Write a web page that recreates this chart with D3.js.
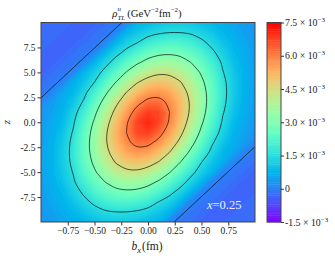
<!DOCTYPE html>
<html>
<head>
<meta charset="utf-8">
<script src="https://cdn.jsdelivr.net/npm/d3@7"></script>
<style>
  body { margin: 0; background: #fff; }
  svg text { font-family: "Liberation Serif", "Times New Roman", Times, "DejaVu Serif", serif; fill: #222; }
</style>
</head>
<body>
<svg id="chart" width="335" height="258"></svg>
<script>
// grid of b_x (fm) and z values the density was read at
const bx = [-1.0, -0.9, -0.8, -0.7, -0.6, -0.5, -0.4, -0.3, -0.2, -0.1, 0.0,
            0.1, 0.2, 0.3, 0.4, 0.5, 0.6, 0.7, 0.8, 0.9, 1.0];
const zRows = [10, 9, 8, 7, 6, 5, 4, 3, 2, 1, 0, -1, -2, -3, -4, -5, -6, -7, -8, -9, -10];

// rho_TL^u in units of 1e-3 GeV^-2 fm^-2, one row per z (top to bottom)
const rho = [
  [-0.21, -0.24, -0.27, -0.30, -0.33, -0.33, -0.21, -0.10, 0.08, 0.73, 0.83, 0.97, 1.06, 1.08, 1.03, 0.90, 0.78, 0.67, 0.52, 0.40, 0.30],
  [-0.24, -0.27, -0.30, -0.33, -0.33, -0.21, -0.10, 0.08, 0.78, 1.04, 1.26, 1.41, 1.49, 1.49, 1.41, 1.25, 1.03, 0.80, 0.64, 0.47, 0.35],
  [-0.27, -0.30, -0.33, -0.33, -0.21, -0.10, 0.08, 0.78, 1.19, 1.48, 1.83, 2.06, 2.17, 2.12, 1.94, 1.63, 1.32, 1.00, 0.75, 0.55, 0.39],
  [-0.30, -0.33, -0.33, -0.21, -0.10, 0.08, 0.78, 1.27, 1.69, 2.17, 2.54, 2.77, 2.84, 2.74, 2.49, 2.11, 1.61, 1.21, 0.83, 0.63, 0.43],
  [-0.33, -0.33, -0.21, -0.10, 0.08, 0.78, 1.26, 1.78, 2.37, 2.87, 3.29, 3.54, 3.57, 3.38, 3.00, 2.53, 1.96, 1.39, 0.95, 0.68, 0.45],
  [-0.33, -0.21, -0.10, 0.08, 0.77, 1.17, 1.72, 2.41, 3.05, 3.66, 4.11, 4.34, 4.31, 4.02, 3.52, 2.89, 2.24, 1.53, 1.05, 0.71, 0.47],
  [-0.21, -0.10, 0.08, 0.68, 1.00, 1.51, 2.28, 3.02, 3.80, 4.46, 4.86, 5.03, 4.92, 4.56, 3.94, 3.18, 2.43, 1.66, 1.11, 0.73, 0.48],
  [-0.10, 0.08, 0.55, 0.81, 1.29, 2.00, 2.81, 3.68, 4.52, 5.13, 5.56, 5.67, 5.44, 4.93, 4.24, 3.37, 2.53, 1.71, 1.11, 0.72, 0.46],
  [0.08, 0.42, 0.67, 1.02, 1.59, 2.44, 3.33, 4.29, 5.09, 5.77, 6.24, 6.27, 5.83, 5.16, 4.38, 3.43, 2.53, 1.67, 1.07, 0.69, 0.44],
  [0.33, 0.50, 0.77, 1.23, 1.94, 2.81, 3.79, 4.75, 5.57, 6.35, 6.82, 6.71, 6.01, 5.20, 4.35, 3.34, 2.42, 1.55, 0.98, 0.65, 0.41],
  [0.38, 0.58, 0.85, 1.40, 2.22, 3.12, 4.14, 5.06, 5.91, 6.75, 7.10, 6.75, 5.91, 5.06, 4.14, 3.12, 2.22, 1.40, 0.85, 0.58, 0.38],
  [0.41, 0.65, 0.98, 1.55, 2.42, 3.34, 4.35, 5.20, 6.01, 6.71, 6.82, 6.35, 5.57, 4.75, 3.79, 2.81, 1.94, 1.23, 0.77, 0.50, 0.33],
  [0.44, 0.69, 1.07, 1.67, 2.53, 3.43, 4.38, 5.16, 5.83, 6.27, 6.24, 5.77, 5.09, 4.29, 3.33, 2.44, 1.59, 1.02, 0.67, 0.42, 0.08],
  [0.46, 0.72, 1.11, 1.71, 2.53, 3.37, 4.24, 4.93, 5.44, 5.67, 5.56, 5.13, 4.52, 3.68, 2.81, 2.00, 1.29, 0.81, 0.55, 0.08, -0.10],
  [0.48, 0.73, 1.11, 1.66, 2.43, 3.18, 3.94, 4.56, 4.92, 5.03, 4.86, 4.46, 3.80, 3.02, 2.28, 1.51, 1.00, 0.68, 0.08, -0.10, -0.21],
  [0.47, 0.71, 1.05, 1.53, 2.24, 2.89, 3.52, 4.02, 4.31, 4.34, 4.11, 3.66, 3.05, 2.41, 1.72, 1.17, 0.77, 0.08, -0.10, -0.21, -0.33],
  [0.45, 0.68, 0.95, 1.39, 1.96, 2.53, 3.00, 3.38, 3.57, 3.54, 3.29, 2.87, 2.37, 1.78, 1.26, 0.78, 0.08, -0.10, -0.21, -0.33, -0.33],
  [0.43, 0.63, 0.83, 1.21, 1.61, 2.11, 2.49, 2.74, 2.84, 2.77, 2.54, 2.17, 1.69, 1.27, 0.78, 0.08, -0.10, -0.21, -0.33, -0.33, -0.30],
  [0.39, 0.55, 0.75, 1.00, 1.32, 1.63, 1.94, 2.12, 2.17, 2.06, 1.83, 1.48, 1.19, 0.78, 0.08, -0.10, -0.21, -0.33, -0.33, -0.30, -0.27],
  [0.35, 0.47, 0.64, 0.80, 1.03, 1.25, 1.41, 1.49, 1.49, 1.41, 1.26, 1.04, 0.78, 0.08, -0.10, -0.21, -0.33, -0.33, -0.30, -0.27, -0.24],
  [0.30, 0.40, 0.52, 0.67, 0.78, 0.90, 1.03, 1.08, 1.06, 0.97, 0.83, 0.73, 0.08, -0.10, -0.21, -0.33, -0.33, -0.30, -0.27, -0.24, -0.21]
];

const contourLevels = [0, 1.5, 3.0, 4.5, 6.0];
const xTicks = [-0.75, -0.5, -0.25, 0, 0.25, 0.5, 0.75];
const zTicks = [-7.5, -5, -2.5, 0, 2.5, 5, 7.5];
const cbTicks = [-1.5, 0, 1.5, 3.0, 4.5, 6.0, 7.5];

const serif = '"Liberation Serif", "Times New Roman", Times, serif';
const plot = {left: 41, right: 255, top: 22.5, bottom: 222};
const svg = d3.select("#chart");

const x = d3.scaleLinear().domain([-1, 1]).range([plot.left, plot.right]);
const y = d3.scaleLinear().domain([-10, 10]).range([plot.bottom, plot.top]);

// matplotlib "rainbow"
function rainbow(t) {
  t = Math.max(0, Math.min(1, t));
  const r = Math.min(1, Math.abs(2 * t - 0.5));
  const g = Math.sin(Math.PI * t);
  const b = Math.cos(Math.PI * t / 2);
  return d3.rgb(r * 255, g * 255, b * 255).formatHex();
}
const color = d3.scaleSequential(rainbow).domain([-1.5, 7.5]);

svg.append("defs").append("clipPath").attr("id", "plot-clip")
  .append("rect")
  .attr("x", plot.left).attr("y", plot.top)
  .attr("width", plot.right - plot.left).attr("height", plot.bottom - plot.top);

// grid coords -> data coords (values sit at cell centres)
const n = bx.length, m = zRows.length;
const gx = d3.scaleLinear().domain([0.5, n - 0.5]).range([bx[0], bx[n - 1]]);
const gz = d3.scaleLinear().domain([0.5, m - 0.5]).range([zRows[0], zRows[m - 1]]);
const toPx = d3.geoTransform({
  point(px, py) { this.stream.point(x(gx(px)), y(gz(py))); }
});
const path = d3.geoPath(toPx);
const values = rho.flat();

const step = 0.1;
const fillLevels = d3.range(-1.5, 7.5 - 1e-9, step);
const bands = d3.contours().size([n, m]).thresholds(fillLevels)(values);

const g = svg.append("g").attr("clip-path", "url(#plot-clip)");
g.selectAll("path.band")
  .data(bands)
  .join("path")
  .attr("class", "band")
  .attr("d", path)
  .attr("fill", d => color(d.value + step / 2));

// black contour lines, smoothed
const isos = d3.contours().size([n, m]).thresholds(contourLevels)(values);
const line = d3.line().curve(d3.curveCatmullRomClosed.alpha(0.5));
g.selectAll("path.iso")
  .data(isos)
  .join("path")
  .attr("class", "iso")
  .attr("d", d => d.coordinates
    .flatMap(poly => poly.map(ring =>
      line(ring.slice(0, -1).map(([px, py]) => [x(gx(px)), y(gz(py))]))))
    .join(""))
  .attr("fill", "none")
  .attr("stroke", "#000")
  .attr("stroke-opacity", 0.72)
  .attr("stroke-width", 0.9);

// axes
const xAxis = svg.append("g")
  .attr("transform", `translate(0,${plot.bottom})`)
  .call(d3.axisBottom(x).tickValues(xTicks).tickSize(3.5).tickPadding(2)
    .tickFormat(d3.format(".2f")));
const yAxis = svg.append("g")
  .attr("transform", `translate(${plot.left},0)`)
  .call(d3.axisLeft(y).tickValues(zTicks).tickSize(3.5).tickPadding(2)
    .tickFormat(d => d3.format(".1f")(d).replace("−", "-")));
[xAxis, yAxis].forEach(a => {
  a.attr("font-family", serif);
  a.select(".domain").remove();
  a.selectAll(".tick line").attr("stroke", "#333");
  a.selectAll("text").attr("font-size", 9.5).attr("fill", "#222");
});

svg.append("rect")
  .attr("x", plot.left).attr("y", plot.top)
  .attr("width", plot.right - plot.left).attr("height", plot.bottom - plot.top)
  .attr("fill", "none").attr("stroke", "#444").attr("stroke-width", 1);

// colorbar
const cb = {left: 267, width: 14};
const cbScale = d3.scaleLinear().domain([-1.5, 7.5]).range([plot.bottom, plot.top]);
svg.append("g").selectAll("rect")
  .data(fillLevels)
  .join("rect")
  .attr("x", cb.left).attr("width", cb.width)
  .attr("y", d => cbScale(Math.min(d + step, 7.5)))
  .attr("height", d => cbScale(d) - cbScale(Math.min(d + step, 7.5)) + 0.4)
  .attr("fill", d => color(d + step / 2));
svg.append("rect")
  .attr("x", cb.left).attr("y", plot.top)
  .attr("width", cb.width).attr("height", plot.bottom - plot.top)
  .attr("fill", "none").attr("stroke", "#444").attr("stroke-width", 1);

const cbAxis = svg.append("g")
  .attr("transform", `translate(${cb.left + cb.width},0)`)
  .call(d3.axisRight(cbScale).tickValues(cbTicks).tickSize(3).tickFormat(""));
cbAxis.select(".domain").remove();
cbAxis.selectAll(".tick line").attr("stroke", "#333");

const cbLabels = svg.append("g").selectAll("text")
  .data(cbTicks)
  .join("text")
  .attr("x", cb.left + cb.width + 4)
  .attr("y", d => cbScale(d) + 3.5)
  .attr("font-size", 9.8);
cbLabels.each(function(d) {
  const t = d3.select(this);
  if (d === 0) { t.text("0"); return; }
  t.append("tspan").text(`${d < 0 ? "-" : ""}${Math.abs(d).toFixed(1)} × 10`);
  t.append("tspan").attr("font-size", 7).attr("dy", -4).text("−3");
});

// title
const title = svg.append("text")
  .attr("x", 147).attr("y", 16.5)
  .attr("text-anchor", "middle")
  .attr("font-size", 10.8);
title.append("tspan").attr("font-style", "italic").text("ρ");
title.append("tspan").attr("font-size", 7).attr("font-style", "italic").attr("dy", -5.5).text("u");
title.append("tspan").attr("font-size", 7).attr("font-style", "italic").attr("dx", -3.6).attr("dy", 9).text("TL");
title.append("tspan").attr("dx", 2).attr("dy", -3.5).text("(GeV");
title.append("tspan").attr("font-size", 7).attr("dy", -4.5).text("−2");
title.append("tspan").attr("dy", 4.5).text("fm");
title.append("tspan").attr("font-size", 7).attr("dy", -4.5).text("−2");
title.append("tspan").attr("dy", 4.5).text(")");

// axis labels
const xLabel = svg.append("text")
  .attr("x", 147).attr("y", 250)
  .attr("text-anchor", "middle")
  .attr("font-size", 11.5);
xLabel.append("tspan").attr("font-style", "italic").text("b");
xLabel.append("tspan").attr("font-style", "italic").attr("font-size", 8.5).attr("dy", 2.5).text("x");
xLabel.append("tspan").attr("dy", -2.5).attr("dx", 1).text("(fm)");

svg.append("text")
  .attr("transform", "translate(10,122) rotate(-90)")
  .attr("text-anchor", "middle")
  .attr("font-size", 11)
  .attr("font-style", "italic")
  .text("z");

const note = svg.append("text")
  .attr("x", 207).attr("y", 209)
  .attr("font-size", 12.5)
  .style("fill", "#eef0ff");
note.append("tspan").attr("font-style", "italic").text("x");
note.append("tspan").text("=0.25");
</script>
</body>
</html>
